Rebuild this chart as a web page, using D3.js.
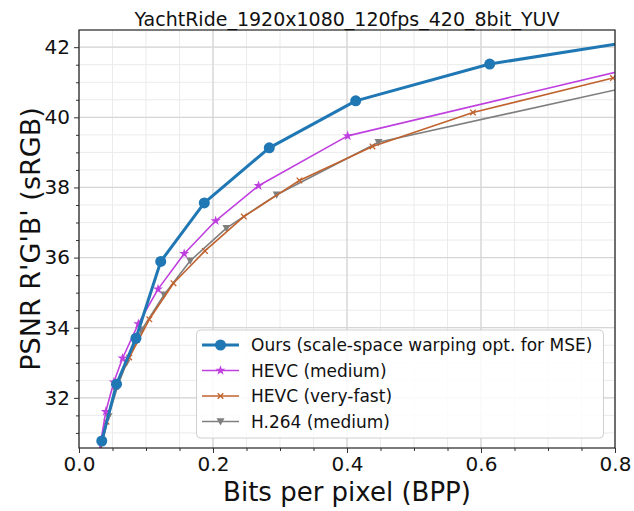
<!DOCTYPE html>
<html><head><meta charset="utf-8">
<script src="https://cdn.jsdelivr.net/npm/d3@7"></script>
<style>body{margin:0;background:#fff}svg{display:block}</style>
</head><body>
<script>
const title = "YachtRide_1920x1080_120fps_420_8bit_YUV";
const xTicks = [0.0, 0.2, 0.4, 0.6, 0.8];
const yTicks = [32, 34, 36, 38, 40, 42];

const oursBpp  = [0.034, 0.056, 0.085, 0.122, 0.187, 0.284, 0.413, 0.613, 0.92];
const oursPsnr = [30.77, 32.39, 33.70, 35.89, 37.56, 39.13, 40.47, 41.52, 42.45];

const hevcMedBpp  = [0.030, 0.040, 0.052, 0.065, 0.0885, 0.118, 0.157, 0.204, 0.268, 0.401, 0.87];
const hevcMedPsnr = [30.45, 31.61, 32.45, 33.13, 34.11, 35.10, 36.11, 37.05, 38.05, 39.47, 41.6];

const hevcFastBpp  = [0.031, 0.041, 0.055, 0.075, 0.105, 0.141, 0.188, 0.246, 0.329, 0.438, 0.588, 0.797];
const hevcFastPsnr = [30.45, 31.32, 32.32, 33.15, 34.24, 35.27, 36.19, 37.17, 38.20, 39.17, 40.14, 41.12];

const h264Bpp  = [0.031, 0.044, 0.058, 0.071, 0.0935, 0.127, 0.166, 0.220, 0.295, 0.447, 0.90];
const h264Psnr = [30.42, 31.47, 32.35, 33.00, 33.94, 34.94, 35.91, 36.84, 37.79, 39.29, 41.20];

const seriesNames = ["Ours (scale-space warping opt. for MSE)", "HEVC (medium)", "HEVC (very-fast)", "H.264 (medium)"];

const series = [
  {name: seriesNames[0], x: oursBpp, y: oursPsnr, color: "#1f77b4", lw: 3, marker: "circle", size: 5.5},
  {name: seriesNames[1], x: hevcMedBpp, y: hevcMedPsnr, color: "#bf3fdf", lw: 1.6, marker: "star", size: 2.8},
  {name: seriesNames[2], x: hevcFastBpp, y: hevcFastPsnr, color: "#c0622e", lw: 1.6, marker: "x", size: 2.8},
  {name: seriesNames[3], x: h264Bpp, y: h264Psnr, color: "#7f7f7f", lw: 1.6, marker: "tri", size: 4}
];

const W = 634, H = 511;
const m = {l: 79, r: 615, t: 30, b: 448};
const xs = d3.scaleLinear().domain([0, 0.8]).range([m.l, m.r]);
const ys = d3.scaleLinear().domain([30.57, 42.49]).range([m.b, m.t]);

const svg = d3.select("body").append("svg").attr("width", W).attr("height", H)
  .style("font-family", "'DejaVu Sans', sans-serif");

svg.append("defs").append("clipPath").attr("id", "clip")
  .append("rect").attr("x", m.l).attr("y", m.t).attr("width", m.r - m.l).attr("height", m.b - m.t);

// grid
const g = svg.append("g");
const xMinor = d3.range(0, 0.8001, 0.05).map(v => +v.toFixed(2));
const yMinor = d3.range(31, 42.5, 0.5);
g.selectAll(".xmin").data(xMinor).enter().append("line")
  .attr("x1", d => xs(d)).attr("x2", d => xs(d)).attr("y1", m.t).attr("y2", m.b)
  .attr("stroke", "#ebebeb").attr("stroke-width", 1);
g.selectAll(".ymin").data(yMinor).enter().append("line")
  .attr("y1", d => ys(d)).attr("y2", d => ys(d)).attr("x1", m.l).attr("x2", m.r)
  .attr("stroke", "#ebebeb").attr("stroke-width", 1);
g.selectAll(".xmaj").data(xTicks).enter().append("line")
  .attr("x1", d => xs(d)).attr("x2", d => xs(d)).attr("y1", m.t).attr("y2", m.b)
  .attr("stroke", "#d6d6d6").attr("stroke-width", 1.3);
g.selectAll(".ymaj").data(yTicks).enter().append("line")
  .attr("y1", d => ys(d)).attr("y2", d => ys(d)).attr("x1", m.l).attr("x2", m.r)
  .attr("stroke", "#d6d6d6").attr("stroke-width", 1.3);

// axes
const xAxis = d3.axisBottom(xs).tickValues(xTicks).tickFormat(d3.format(".1f")).tickSize(5).tickPadding(4);
const yAxis = d3.axisLeft(ys).tickValues(yTicks).tickFormat(d3.format("d")).tickSize(5).tickPadding(4);
const gx = svg.append("g").attr("transform", `translate(0,${m.b})`).call(xAxis);
const gy = svg.append("g").attr("transform", `translate(${m.l},0)`).call(yAxis);
[gx, gy].forEach(a => {
  a.select(".domain").remove();
  a.selectAll("text").attr("font-size", 20).attr("fill", "#111").style("font-family", "'DejaVu Sans', sans-serif");
  a.selectAll(".tick line").attr("stroke", "#333");
});
const gxm = svg.append("g").attr("transform", `translate(0,${m.b})`)
  .call(d3.axisBottom(xs).tickValues(xMinor.filter(v => !xTicks.includes(v))).tickSize(3).tickFormat(""));
const gym = svg.append("g").attr("transform", `translate(${m.l},0)`)
  .call(d3.axisLeft(ys).tickValues(yMinor.filter(v => !yTicks.includes(v))).tickSize(3).tickFormat(""));
[gxm, gym].forEach(a => { a.select(".domain").remove(); a.selectAll(".tick line").attr("stroke", "#333"); });

// data
const plot = svg.append("g").attr("clip-path", "url(#clip)");
function drawMarker(sel, s, px, py) {
  const sz = s.size;
  if (s.marker === "circle") {
    sel.append("circle").attr("cx", px).attr("cy", py).attr("r", sz).attr("fill", s.color);
  } else if (s.marker === "star") {
    sel.append("path").attr("d", d3.symbol().type(d3.symbolStar).size(sz * sz * 4)())
      .attr("transform", `translate(${px},${py})`).attr("fill", s.color);
  } else if (s.marker === "x") {
    sel.append("path").attr("d", `M${px - sz},${py - sz}L${px + sz},${py + sz}M${px - sz},${py + sz}L${px + sz},${py - sz}`)
      .attr("stroke", s.color).attr("stroke-width", 1.3).attr("fill", "none");
  } else if (s.marker === "tri") {
    sel.append("path").attr("d", `M${px - sz},${py - sz * 0.8}L${px + sz},${py - sz * 0.8}L${px},${py + sz}Z`)
      .attr("fill", s.color);
  }
}
series.slice().reverse().forEach(s => {
  const pts = s.x.map((v, i) => [v, s.y[i]]);
  plot.append("path").datum(pts)
    .attr("d", d3.line().x(d => xs(d[0])).y(d => ys(d[1])))
    .attr("fill", "none").attr("stroke", s.color).attr("stroke-width", s.lw).attr("stroke-linejoin", "round");
  pts.forEach(p => drawMarker(plot, s, xs(p[0]), ys(p[1])));
});

// frame
svg.append("rect").attr("x", m.l).attr("y", m.t).attr("width", m.r - m.l).attr("height", m.b - m.t)
  .attr("fill", "none").attr("stroke", "#222").attr("stroke-width", 1.2);

// title & labels
svg.append("text").attr("x", (m.l + m.r) / 2).attr("y", 26).attr("text-anchor", "middle")
  .attr("font-size", 19).attr("fill", "#111").text(title);
svg.append("text").attr("x", (m.l + m.r) / 2).attr("y", 501).attr("text-anchor", "middle")
  .attr("font-size", 26).attr("fill", "#111").text("Bits per pixel (BPP)");
svg.append("text").attr("transform", `translate(40,${(m.t + m.b) / 2}) rotate(-90)`).attr("text-anchor", "middle")
  .attr("font-size", 27).attr("fill", "#111").text("PSNR R'G'B' (sRGB)");

// legend
const lg = svg.append("g");
lg.append("rect").attr("x", 196.5).attr("y", 330).attr("width", 407).attr("height", 108).attr("rx", 4)
  .attr("fill", "rgba(255,255,255,0.85)").attr("stroke", "#d0d0d0");
series.forEach((s, i) => {
  const yy = 345 + i * 25.5;
  lg.append("line").attr("x1", 202).attr("x2", 239).attr("y1", yy).attr("y2", yy)
    .attr("stroke", s.color).attr("stroke-width", s.lw);
  drawMarker(lg, s, 220.5, yy);
  lg.append("text").attr("x", 251).attr("y", yy + 6).attr("font-size", 17).attr("fill", "#111").text(s.name);
});
</script>
</body></html>
